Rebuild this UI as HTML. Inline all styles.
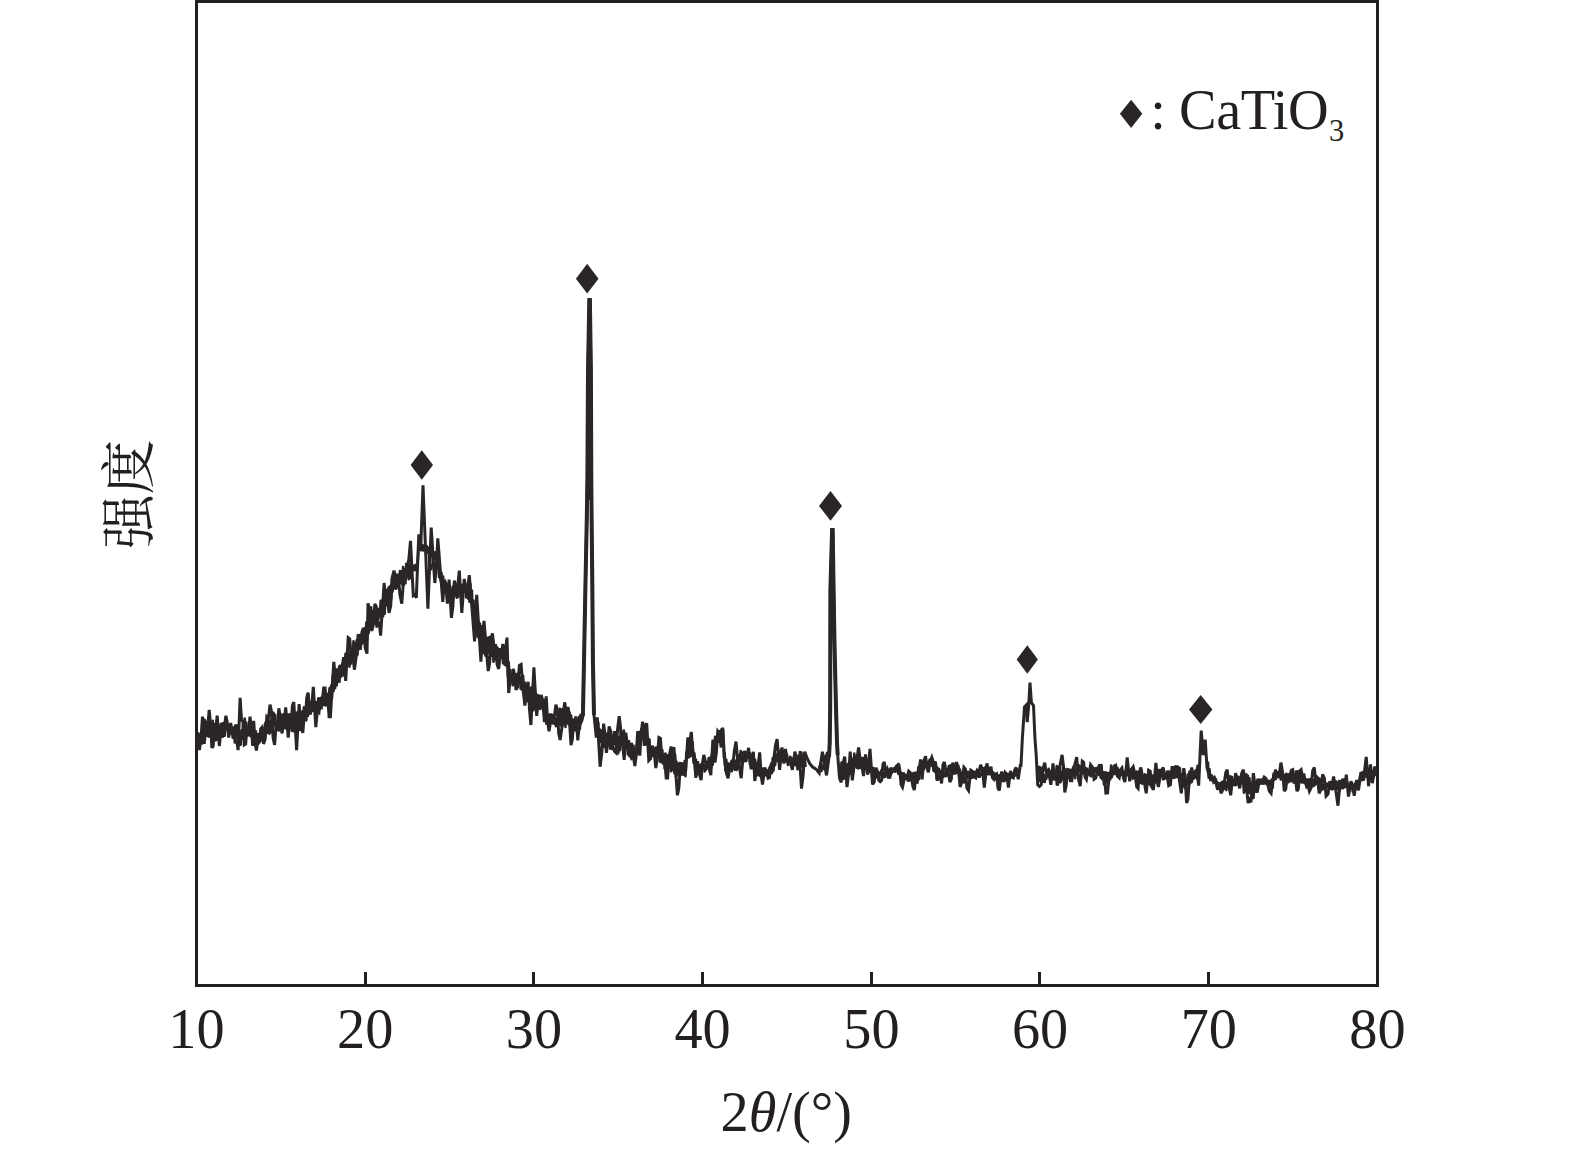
<!DOCTYPE html>
<html lang="zh">
<head>
<meta charset="utf-8">
<title>XRD</title>
<style>
html,body{margin:0;padding:0;background:#fff;}
body{width:1575px;height:1149px;overflow:hidden;}
svg{display:block;}
text{font-family:"Liberation Serif","Noto Serif CJK SC",serif;fill:#231f20;}
.num{font-size:56.3px;}
.cjk{font-family:"Noto Serif CJK SC","Liberation Serif",serif;font-size:54.5px;}
</style>
</head>
<body>
<svg width="1575" height="1149" viewBox="0 0 1575 1149">
<rect x="0" y="0" width="1575" height="1149" fill="#fff"/>
<!-- frame -->
<rect x="196.5" y="1.5" width="1181" height="984" fill="none" stroke="#231f20" stroke-width="3"/>
<rect x="364" y="972" width="3" height="12" fill="#231f20"/>
<rect x="532" y="972" width="3" height="12" fill="#231f20"/>
<rect x="701" y="972" width="3" height="12" fill="#231f20"/>
<rect x="870" y="972" width="3" height="12" fill="#231f20"/>
<rect x="1038" y="972" width="3" height="12" fill="#231f20"/>
<rect x="1207" y="972" width="3" height="12" fill="#231f20"/>

<!-- curve -->
<polyline fill="none" stroke="#2a2627" stroke-width="2.6" stroke-linejoin="round" points="197.5,745.1 198.3,733.4 199.1,744.8 199.9,734.7 200.7,743.3 201.5,731.3 202.3,743.5 203.1,728.8 203.9,739.2 204.7,719.8 205.5,732.6 206.3,721.9 207.1,735.7 207.9,722.2 208.7,736.8 209.5,730.1 210.3,734.2 211.1,724.3 211.9,729.8 212.7,720.9 213.5,736.8 214.3,724.1 215.1,740.5 215.9,731.7 216.7,740.0 217.5,729.3 218.3,736.2 219.1,727.1 219.9,735.0 220.7,724.0 221.5,731.8 222.3,723.5 223.1,736.5 223.9,727.1 224.7,735.8 225.5,726.1 226.3,729.6 227.1,725.3 227.9,729.0 228.7,725.7 229.5,729.5 230.3,726.9 231.1,734.0 231.9,727.3 232.7,737.6 233.5,730.0 234.3,737.7 235.1,725.6 235.9,736.1 236.7,725.3 237.5,739.6 238.3,725.5 239.1,744.6 239.9,734.0 240.7,744.7 241.5,730.2 242.3,738.8 243.1,725.7 243.9,731.9 244.7,718.5 245.5,734.2 246.3,722.6 247.1,735.3 247.9,727.3 248.7,735.2 249.5,727.6 250.3,736.0 251.1,727.1 251.9,735.1 252.7,724.9 253.5,741.1 254.3,732.1 255.1,742.7 255.9,731.4 256.7,741.1 257.5,734.4 258.3,743.8 259.1,734.0 259.9,740.3 260.7,734.1 261.5,740.3 262.3,733.0 263.1,737.4 263.9,728.0 264.7,734.6 265.5,722.5 266.3,733.1 267.1,721.8 267.9,732.8 268.7,721.5 269.5,733.6 270.3,721.0 271.1,732.3 271.9,715.2 272.7,727.0 273.5,712.9 274.3,725.3 275.1,714.9 275.9,728.0 276.7,722.5 277.5,729.6 278.3,722.3 279.1,730.5 279.9,718.9 280.7,724.2 281.5,714.7 282.3,722.9 283.1,714.5 283.9,727.8 284.7,720.0 285.5,728.2 286.3,720.2 287.1,728.7 287.9,714.8 288.7,726.4 289.5,714.3 290.3,728.1 291.1,715.8 291.9,730.6 292.7,718.7 293.5,731.2 294.3,713.8 295.1,723.7 295.9,713.0 296.7,726.2 297.5,712.3 298.3,728.4 299.1,717.7 299.9,730.0 300.7,715.5 301.5,726.0 302.3,711.5 303.1,723.2 303.9,707.2 304.7,718.2 305.5,708.2 306.3,719.9 307.1,701.2 307.9,716.0 308.7,699.0 309.5,710.9 310.3,702.2 311.1,712.0 311.9,701.8 312.7,710.6 313.5,703.5 314.3,711.3 315.1,702.5 315.9,711.5 316.7,702.4 317.5,708.2 318.3,698.2 319.1,709.5 319.9,698.5 320.7,708.0 321.5,697.5 322.3,705.2 323.1,699.2 323.9,704.9 324.7,698.6 325.5,705.5 326.3,695.2 327.1,705.2 327.9,693.7 328.7,703.0 329.5,688.3 330.3,702.5 331.1,685.6 331.9,698.4 332.7,675.9 333.5,691.3 334.3,675.8 335.1,688.3 335.9,669.4 336.7,680.2 337.5,669.8 338.3,676.8 339.1,666.6 339.9,676.1 340.7,667.6 341.5,676.5 342.3,663.9 343.1,675.2 343.9,659.8 344.7,671.0 345.5,653.8 346.3,666.1 347.1,653.7 347.9,663.6 348.7,654.1 349.5,666.6 350.3,651.9 351.1,663.4 351.9,649.7 352.7,659.4 353.5,641.3 354.3,656.1 355.1,643.2 355.9,653.3 356.7,640.3 357.5,654.8 358.3,639.2 359.1,649.3 359.9,635.0 360.7,643.6 361.5,638.2 362.3,643.4 363.1,637.7 363.9,641.1 364.7,628.4 365.5,642.2 366.3,622.5 367.1,639.0 367.9,622.3 368.7,633.2 369.5,615.4 370.3,628.7 371.1,607.2 371.9,622.7 372.7,611.2 373.5,619.6 374.3,614.4 375.1,623.7 375.9,616.6 376.7,626.8 377.5,612.2 378.3,619.8 379.1,608.8 379.9,616.2 380.7,600.9 381.5,618.1 382.3,600.9 383.1,616.3 383.9,600.9 384.7,613.6 385.5,594.4 386.3,605.5 387.1,589.8 387.9,601.9 388.7,587.4 389.5,601.2 390.3,586.1 391.1,599.2 391.9,579.2 392.7,591.4 393.5,574.0 394.3,588.3 395.1,576.8 395.9,588.8 396.7,576.8 397.5,587.5 398.3,577.1 399.1,583.9 399.9,571.0 400.7,582.6 401.5,571.5 402.3,584.6 403.1,567.1 403.9,584.6 404.7,569.4 405.5,583.1 406.3,563.7 407.1,577.0 407.9,565.9 408.7,579.1 409.5,563.9 410.3,578.3 411.1,569.6 411.9,571.4 412.7,565.5 413.5,570.2 414.3,565.8 415.1,570.1 415.9,564.7 416.7,569.3 417.5,564.5 418.3,550.6 419.1,545.1 419.9,550.0 420.7,545.8 421.5,550.2 422.3,545.0 423.1,550.4 423.9,545.9 424.7,550.2 425.5,546.0 426.3,549.7 427.1,546.3 427.9,552.6 428.7,548.3 429.5,565.4 430.3,565.2 431.1,569.2 431.9,564.9 432.7,564.4 433.5,553.1 434.3,558.2 435.1,552.4 435.9,558.0 436.7,560.0 437.5,567.9 438.3,564.3 439.1,577.1 439.9,572.6 440.7,580.9 441.5,573.0 442.3,593.0 443.1,576.6 443.9,593.7 444.7,583.3 445.5,591.0 446.3,589.6 447.1,598.7 447.9,592.3 448.7,598.0 449.5,587.6 450.3,596.3 451.1,589.9 451.9,597.7 452.7,586.7 453.5,593.6 454.3,582.9 455.1,595.2 455.9,585.1 456.7,597.6 457.5,585.0 458.3,596.9 459.1,585.6 459.9,589.7 460.7,584.9 461.5,593.9 462.3,585.8 463.1,589.7 463.9,583.2 464.7,589.8 465.5,584.2 466.3,597.3 467.1,586.2 467.9,598.5 468.7,584.2 469.5,601.8 470.3,583.9 471.1,602.4 471.9,590.6 472.7,615.2 473.5,600.6 474.3,619.9 475.1,611.9 475.9,626.9 476.7,617.7 477.5,636.8 478.3,622.9 479.1,639.0 479.9,623.5 480.7,639.4 481.5,626.3 482.3,645.2 483.1,636.0 483.9,653.3 484.7,638.4 485.5,655.6 486.3,640.3 487.1,650.4 487.9,637.9 488.7,652.7 489.5,637.0 490.3,654.2 491.1,642.9 491.9,655.8 492.7,647.1 493.5,661.8 494.3,645.5 495.1,659.5 495.9,645.7 496.7,656.2 497.5,647.9 498.3,656.7 499.1,649.4 499.9,656.9 500.7,649.3 501.5,657.8 502.3,650.7 503.1,663.3 503.9,650.9 504.7,664.6 505.5,651.0 506.3,665.7 507.1,650.3 507.9,676.8 508.7,662.3 509.5,678.8 510.3,670.1 511.1,682.3 511.9,674.9 512.7,685.3 513.5,677.6 514.3,683.0 515.1,674.8 515.9,680.3 516.7,674.3 517.5,680.1 518.3,673.0 519.1,682.1 519.9,677.0 520.7,688.9 521.5,678.4 522.3,689.6 523.1,675.7 523.9,693.7 524.7,682.5 525.5,698.0 526.3,686.2 527.1,701.1 527.9,689.9 528.7,698.8 529.5,689.9 530.3,700.3 531.1,687.5 531.9,701.6 532.7,692.1 533.5,710.2 534.3,695.2 535.1,707.4 535.9,693.5 536.7,705.3 537.5,695.1 538.3,705.7 539.1,695.9 539.9,709.0 540.7,698.4 541.5,708.0 542.3,700.0 543.1,710.5 543.9,700.1 544.7,714.0 545.5,706.4 546.3,723.8 547.1,713.6 547.9,723.4 548.7,715.4 549.5,720.5 550.3,714.4 551.1,721.8 551.9,714.8 552.7,723.3 553.5,717.8 554.3,723.8 555.1,718.6 555.9,726.2 556.7,718.8 557.5,724.3 558.3,717.2 559.1,723.6 559.9,708.9 560.7,725.5 561.5,709.5 562.3,726.0 563.1,708.8 563.9,723.3 564.7,710.9 565.5,726.9 566.3,708.4 567.1,722.9 567.9,708.7 568.7,724.4 569.5,712.3 570.3,726.5 571.1,715.6 571.9,729.0 572.7,719.6 573.5,730.3 574.3,722.6 575.1,730.3 575.9,722.5 576.7,728.2 577.5,720.5 578.3,727.2 579.1,717.1 579.9,728.7 580.7,713.7"/>
<polyline fill="none" stroke="#2a2627" stroke-width="2.6" stroke-linejoin="round" points="597.5,737.3 598.3,722.5 599.1,742.4 599.9,729.6 600.7,741.9 601.5,730.8 602.3,744.2 603.1,733.1 603.9,747.0 604.7,731.7 605.5,742.9 606.3,734.2 607.1,741.1 607.9,733.1 608.7,742.1 609.5,736.9 610.3,748.7 611.1,742.8 611.9,748.9 612.7,736.3 613.5,743.8 614.3,732.0 615.1,744.3 615.9,732.2 616.7,746.9 617.5,738.7 618.3,753.1 619.1,737.4 619.9,750.2 620.7,730.0 621.5,742.6 622.3,732.6 623.1,743.9 623.9,730.5 624.7,746.7 625.5,739.4 626.3,748.0 627.1,743.1 627.9,754.4 628.7,744.8 629.5,756.1 630.3,744.3 631.1,757.7 631.9,743.9 632.7,757.8 633.5,745.7 634.3,757.7 635.1,749.4 635.9,758.1 636.7,745.3 637.5,753.6 638.3,738.0 639.1,752.5 639.9,731.8 640.7,740.5 641.5,729.0 642.3,738.7 643.1,727.9 643.9,744.6 644.7,725.2 645.5,744.6 646.3,728.0 647.1,740.5 647.9,737.9 648.7,755.3 649.5,739.6 650.3,758.5 651.1,750.2 651.9,755.7 652.7,750.9 653.5,756.1 654.3,750.7 655.1,754.8 655.9,747.6 656.7,753.3 657.5,747.4 658.3,756.3 659.1,748.3 659.9,761.5 660.7,749.6 661.5,762.3 662.3,750.2 663.1,763.4 663.9,754.3 664.7,768.6 665.5,753.5 666.3,766.0 667.1,755.6 667.9,767.2 668.7,755.1 669.5,765.6 670.3,756.0 671.1,771.3 671.9,754.9 672.7,769.8 673.5,756.2 674.3,773.0 675.1,754.5 675.9,776.8 676.7,762.1 677.5,775.2 678.3,763.8 679.1,773.8 679.9,763.1 680.7,774.8 681.5,763.2 682.3,774.4 683.1,764.0 683.9,774.6 684.7,761.1 685.5,776.1 686.3,752.2 687.1,755.1 687.9,740.9 688.7,757.4 689.5,742.7 690.3,756.3 691.1,743.0 691.9,755.5 692.7,742.5 693.5,762.7 694.3,753.4 695.1,769.2 695.9,759.5 696.7,774.6 697.5,764.9 698.3,771.7 699.1,765.6 699.9,771.7 700.7,764.6 701.5,768.7 702.3,763.1 703.1,767.1 703.9,764.5 704.7,771.5 705.5,765.9 706.3,769.5 707.1,762.0 707.9,765.9 708.7,758.0 709.5,764.6 710.3,757.9 711.1,767.5 711.9,754.7 712.7,764.6 713.5,747.9 714.3,759.7 715.1,736.8 715.9,753.3 716.7,736.7 717.5,741.9 718.3,731.1 719.1,741.9 719.9,731.3 720.7,746.4 721.5,729.4 722.3,746.0 723.1,729.5 723.9,757.4 724.7,753.2 725.5,770.7 726.3,759.7 727.1,774.4 727.9,763.2 728.7,770.1 729.5,764.2 730.3,769.6 731.1,761.6 731.9,771.3 732.7,759.7 733.5,768.2 734.3,760.2 735.1,769.8 735.9,760.9 736.7,769.9 737.5,756.4 738.3,767.4 739.1,755.4 739.9,759.1 740.7,751.0 741.5,763.4 742.3,752.9 743.1,760.9 743.9,752.4 744.7,761.2 745.5,752.5 746.3,761.0 747.1,754.1 747.9,756.9 748.7,752.5 749.5,757.9 750.3,753.2 751.1,763.9 751.9,755.2 752.7,767.7 753.5,759.4 754.3,768.2 755.1,759.8 755.9,768.1 756.7,763.2 757.5,775.2 758.3,762.6 759.1,775.3 759.9,767.1 760.7,776.7 761.5,769.3 762.3,774.9 763.1,768.6 763.9,775.7 764.7,771.1 765.5,775.2 766.3,771.1 767.1,774.9 767.9,770.6 768.7,773.2 769.5,767.6 770.3,772.5 771.1,763.6 771.9,773.1 772.7,758.4 773.5,770.7 774.3,758.0 775.1,765.1 775.9,755.0 776.7,761.3 777.5,753.6 778.3,759.1 779.1,753.0 779.9,756.3 780.7,750.0 781.5,756.9 782.3,753.6 783.1,757.8 783.9,755.2 784.7,761.1 785.5,755.7 786.3,761.6 787.1,754.9 787.9,765.0 788.7,759.6 789.5,763.9 790.3,756.7 791.1,761.8 791.9,758.6 792.7,763.3 793.5,759.1 794.3,764.7 795.1,759.5 795.9,765.2 796.7,757.4 797.5,769.3 798.3,755.9 799.1,768.2 799.9,752.1 800.7,764.4 801.5,752.5 802.3,766.8 803.1,756.5 803.9,765.9 804.7,754.8 805.5,767.0"/>
<polyline fill="none" stroke="#2a2627" stroke-width="2.6" stroke-linejoin="round" points="819.1,765.6 819.9,769.9 820.7,765.7 821.5,770.9 822.3,765.7 823.1,768.9 823.9,762.0 824.7,766.3 825.5,755.7 826.3,765.7 827.1,751.8"/>
<polyline fill="none" stroke="#2a2627" stroke-width="2.6" stroke-linejoin="round" points="840.7,773.9 841.5,762.5 842.3,779.0 843.1,767.7 843.9,778.7 844.7,768.9 845.5,774.3 846.3,764.8 847.1,772.8 847.9,764.2 848.7,772.1 849.5,763.4 850.3,773.5 851.1,763.1 851.9,774.6 852.7,758.8 853.5,772.0 854.3,753.5 855.1,765.5 855.9,756.6 856.7,767.7 857.5,757.1 858.3,768.5 859.1,760.0 859.9,768.0 860.7,757.8 861.5,765.2 862.3,758.2 863.1,766.5 863.9,758.0 864.7,767.0 865.5,760.1 866.3,767.0 867.1,764.3 867.9,773.3 868.7,766.5 869.5,772.0 870.3,765.7 871.1,772.3 871.9,767.8 872.7,774.9 873.5,768.1 874.3,779.6 875.1,773.8 875.9,777.5 876.7,773.7 877.5,777.3 878.3,774.5 879.1,777.2 879.9,772.5 880.7,774.4 881.5,770.0 882.3,776.9 883.1,772.8 883.9,777.2 884.7,772.8 885.5,776.7 886.3,771.7 887.1,774.6 887.9,770.2 888.7,772.1 889.5,769.0 890.3,772.6 891.1,768.2 891.9,772.8 892.7,768.7 893.5,771.2 894.3,768.2 895.1,771.7 895.9,767.6 896.7,771.3 897.5,766.1 898.3,773.5 899.1,764.5 899.9,775.2 900.7,772.4 901.5,780.6 902.3,773.2 903.1,778.7 903.9,773.4 904.7,777.5 905.5,775.1 906.3,778.9 907.1,777.3 907.9,780.8 908.7,776.1 909.5,780.4 910.3,776.9 911.1,779.8 911.9,773.9 912.7,779.7 913.5,773.1 914.3,779.5 915.1,772.8 915.9,780.4 916.7,774.3 917.5,782.8 918.3,767.3 919.1,779.1 919.9,767.7 920.7,774.5 921.5,762.8 922.3,769.6 923.1,765.0 923.9,769.2 924.7,764.3 925.5,766.6 926.3,763.2 927.1,766.7 927.9,762.0 928.7,764.3 929.5,759.9 930.3,764.4 931.1,760.1 931.9,765.7 932.7,761.6 933.5,770.7 934.3,763.5 935.1,771.9 935.9,763.2 936.7,779.4 937.5,767.7 938.3,777.6 939.1,769.0 939.9,776.1 940.7,771.5 941.5,775.8 942.3,772.2 943.1,776.9 943.9,772.2 944.7,776.2 945.5,772.0 946.3,776.0 947.1,769.4 947.9,775.1 948.7,766.2 949.5,771.3 950.3,765.3 951.1,772.0 951.9,766.3 952.7,772.4 953.5,765.1 954.3,773.6 955.1,765.3 955.9,773.3 956.7,765.2 957.5,772.4 958.3,765.9 959.1,774.4 959.9,769.6 960.7,777.6 961.5,772.7 962.3,777.6 963.1,777.0 963.9,782.4 964.7,777.9 965.5,782.2 966.3,773.6 967.1,777.5 967.9,771.9 968.7,777.6 969.5,772.8 970.3,777.9 971.1,774.2 971.9,777.7 972.7,773.4 973.5,777.1 974.3,772.1 975.1,775.5 975.9,771.6 976.7,775.4 977.5,770.7 978.3,776.8 979.1,773.6 979.9,776.8 980.7,773.3 981.5,774.7 982.3,768.0 983.1,773.7 983.9,768.3 984.7,773.1 985.5,767.0 986.3,772.8 987.1,770.0 987.9,774.3 988.7,769.8 989.5,774.1 990.3,770.8 991.1,774.3 991.9,771.1 992.7,775.9 993.5,772.6 994.3,778.0 995.1,774.3 995.9,779.1 996.7,774.2 997.5,779.8 998.3,775.5 999.1,779.9 999.9,775.3 1000.7,778.5 1001.5,776.3 1002.3,780.9 1003.1,777.3 1003.9,781.2 1004.7,776.4 1005.5,780.4 1006.3,774.0 1007.1,777.8 1007.9,774.1 1008.7,777.9 1009.5,775.0 1010.3,776.3 1011.1,772.5 1011.9,777.8 1012.7,774.0 1013.5,776.3 1014.3,772.3 1015.1,775.5 1015.9,771.2 1016.7,774.3 1017.5,769.2 1018.3,778.5"/>
<polyline fill="none" stroke="#2a2627" stroke-width="2.6" stroke-linejoin="round" points="1039.1,765.8 1039.9,780.9 1040.7,767.8 1041.5,776.5 1042.3,770.1 1043.1,781.7 1043.9,774.5 1044.7,782.0 1045.5,775.1 1046.3,779.0 1047.1,770.3 1047.9,776.4 1048.7,768.8 1049.5,775.4 1050.3,771.3 1051.1,777.8 1051.9,771.6 1052.7,779.0 1053.5,774.7 1054.3,779.6 1055.1,771.1 1055.9,778.4 1056.7,766.0 1057.5,773.1 1058.3,767.0 1059.1,777.3 1059.9,770.4 1060.7,782.1 1061.5,772.6 1062.3,779.4 1063.1,766.9 1063.9,776.3 1064.7,769.0 1065.5,777.2 1066.3,772.6 1067.1,778.1 1067.9,773.7 1068.7,778.0 1069.5,774.2 1070.3,776.4 1071.1,770.4 1071.9,776.3 1072.7,769.1 1073.5,774.5 1074.3,767.8 1075.1,778.1 1075.9,767.9 1076.7,774.5 1077.5,765.3 1078.3,772.3 1079.1,765.6 1079.9,771.0 1080.7,766.9 1081.5,773.9 1082.3,768.4 1083.1,773.3 1083.9,770.0 1084.7,773.4 1085.5,768.0 1086.3,772.4 1087.1,768.8 1087.9,773.8 1088.7,770.3 1089.5,775.2 1090.3,771.7 1091.1,776.4 1091.9,771.2 1092.7,773.8 1093.5,769.8 1094.3,772.2 1095.1,768.2 1095.9,771.3 1096.7,768.2 1097.5,773.4 1098.3,770.6 1099.1,774.9 1099.9,768.8 1100.7,777.6 1101.5,766.0 1102.3,778.3 1103.1,772.3 1103.9,784.2 1104.7,772.3 1105.5,782.8 1106.3,772.6 1107.1,782.1 1107.9,773.4 1108.7,783.4 1109.5,772.9 1110.3,779.3 1111.1,765.5 1111.9,777.2 1112.7,768.5 1113.5,774.1 1114.3,769.6 1115.1,774.0 1115.9,768.7 1116.7,771.7 1117.5,768.1 1118.3,771.9 1119.1,770.4 1119.9,774.4 1120.7,770.3 1121.5,774.7 1122.3,770.4 1123.1,774.2 1123.9,771.8 1124.7,775.5 1125.5,771.6 1126.3,774.3 1127.1,770.3 1127.9,775.2 1128.7,770.6 1129.5,774.8 1130.3,769.8 1131.1,774.5 1131.9,770.2 1132.7,778.7 1133.5,774.2 1134.3,777.8 1135.1,774.1 1135.9,778.0 1136.7,771.6 1137.5,777.6 1138.3,772.9 1139.1,779.5 1139.9,775.6 1140.7,782.9 1141.5,778.3 1142.3,783.7 1143.1,776.0 1143.9,780.0 1144.7,774.3 1145.5,779.6 1146.3,775.3 1147.1,783.2 1147.9,777.8 1148.7,783.6 1149.5,778.3 1150.3,785.3 1151.1,776.2 1151.9,781.7 1152.7,775.6 1153.5,782.4 1154.3,776.2 1155.1,781.7 1155.9,775.5 1156.7,783.1 1157.5,774.6 1158.3,778.8 1159.1,770.1 1159.9,774.7 1160.7,770.1 1161.5,776.4 1162.3,772.8 1163.1,779.4 1163.9,775.1 1164.7,778.7 1165.5,775.3 1166.3,777.3 1167.1,771.5 1167.9,777.5 1168.7,771.5 1169.5,777.5 1170.3,772.0 1171.1,778.7 1171.9,770.9 1172.7,777.5 1173.5,770.0 1174.3,777.9 1175.1,770.6 1175.9,777.1 1176.7,770.1 1177.5,776.8 1178.3,766.9 1179.1,778.2 1179.9,768.3 1180.7,783.2 1181.5,774.3 1182.3,787.2 1183.1,779.1 1183.9,786.3 1184.7,781.2 1185.5,788.7 1186.3,779.0 1187.1,784.6 1187.9,774.6 1188.7,782.6 1189.5,771.7 1190.3,783.1 1191.1,770.5 1191.9,781.9 1192.7,772.3 1193.5,778.7 1194.3,774.0 1195.1,776.8 1195.9,770.3 1196.7,778.2 1197.5,765.9 1198.3,781.1"/>
<polyline fill="none" stroke="#2a2627" stroke-width="2.6" stroke-linejoin="round" points="1207.9,761.5 1208.7,777.7 1209.5,769.2 1210.3,780.1 1211.1,775.4 1211.9,779.9 1212.7,777.3 1213.5,781.0 1214.3,778.4 1215.1,782.9 1215.9,779.3 1216.7,786.0 1217.5,782.6 1218.3,787.3 1219.1,783.5 1219.9,787.4 1220.7,783.0 1221.5,787.3 1222.3,781.8 1223.1,788.0 1223.9,781.5 1224.7,788.7 1225.5,782.9 1226.3,790.2 1227.1,782.4 1227.9,786.7 1228.7,779.8 1229.5,784.8 1230.3,776.2 1231.1,782.5 1231.9,777.0 1232.7,783.6 1233.5,779.9 1234.3,785.1 1235.1,781.3 1235.9,785.1 1236.7,780.7 1237.5,782.8 1238.3,776.7 1239.1,781.3 1239.9,777.6 1240.7,781.4 1241.5,776.8 1242.3,783.4 1243.1,778.5 1243.9,792.7 1244.7,776.9 1245.5,791.4 1246.3,774.2 1247.1,789.9 1247.9,775.7 1248.7,792.4 1249.5,778.4 1250.3,793.5 1251.1,783.2 1251.9,798.5 1252.7,785.4 1253.5,797.9 1254.3,782.9 1255.1,791.7 1255.9,783.5 1256.7,785.3 1257.5,779.5 1258.3,783.7 1259.1,779.5 1259.9,783.8 1260.7,779.8 1261.5,783.5 1262.3,779.6 1263.1,783.8 1263.9,779.9 1264.7,783.4 1265.5,779.7 1266.3,783.5 1267.1,780.8 1267.9,784.9 1268.7,780.7 1269.5,785.1 1270.3,781.1 1271.1,786.1 1271.9,779.6 1272.7,787.7 1273.5,773.9 1274.3,779.9 1275.1,770.6 1275.9,778.9 1276.7,772.0 1277.5,776.4 1278.3,772.3 1279.1,776.7 1279.9,771.2 1280.7,779.4 1281.5,769.3 1282.3,779.3 1283.1,775.0 1283.9,782.2 1284.7,775.1 1285.5,781.2 1286.3,773.8 1287.1,782.1 1287.9,774.6 1288.7,782.1 1289.5,774.1 1290.3,781.2 1291.1,775.3 1291.9,781.2 1292.7,775.2 1293.5,781.2 1294.3,774.8 1295.1,779.0 1295.9,771.5 1296.7,779.1 1297.5,771.3 1298.3,779.9 1299.1,775.6 1299.9,781.2 1300.7,777.5 1301.5,782.5 1302.3,777.0 1303.1,782.4 1303.9,776.7 1304.7,783.0 1305.5,779.2 1306.3,784.4 1307.1,779.6 1307.9,784.6 1308.7,779.6 1309.5,784.7 1310.3,779.0 1311.1,785.5 1311.9,780.9 1312.7,786.3 1313.5,780.4 1314.3,785.7 1315.1,778.9 1315.9,784.0 1316.7,776.3 1317.5,782.2 1318.3,777.9 1319.1,783.3 1319.9,779.1 1320.7,789.2 1321.5,781.7 1322.3,789.5 1323.1,785.4 1323.9,788.7 1324.7,783.6 1325.5,786.8 1326.3,783.6 1327.1,786.6 1327.9,783.8 1328.7,787.4 1329.5,784.2 1330.3,788.5 1331.1,784.5 1331.9,789.5 1332.7,783.2 1333.5,788.6 1334.3,781.7 1335.1,788.5 1335.9,781.2 1336.7,788.8 1337.5,782.7 1338.3,789.2 1339.1,781.2 1339.9,790.4 1340.7,781.2 1341.5,787.7 1342.3,780.4 1343.1,788.3 1343.9,782.3 1344.7,787.1 1345.5,782.3 1346.3,786.4 1347.1,782.8 1347.9,786.4 1348.7,784.3 1349.5,788.8 1350.3,784.4 1351.1,787.1 1351.9,783.9 1352.7,791.3 1353.5,787.5 1354.3,788.5 1355.1,783.7 1355.9,786.5 1356.7,782.9 1357.5,788.1 1358.3,781.5 1359.1,784.6 1359.9,777.1 1360.7,780.2 1361.5,772.7 1362.3,780.2 1363.1,772.0 1363.9,779.7 1364.7,772.2 1365.5,776.3 1366.3,771.6 1367.1,777.0 1367.9,773.7 1368.7,777.5 1369.5,768.8 1370.3,772.7 1371.1,770.2 1371.9,774.9 1372.7,774.0 1373.5,777.8 1374.3,772.9 1375.1,775.0 1375.9,770.6"/>
<polyline fill="none" stroke="#2a2627" stroke-width="3" stroke-linejoin="miter" stroke-miterlimit="3" points="197.3,738.6 199.4,750.1 201.0,738.4 202.5,716.7 204.2,743.9 205.9,728.3 207.6,727.8 209.2,710.0 210.6,725.1 211.9,748.0 213.2,745.9 214.6,726.6 215.9,727.6 217.2,715.7 219.3,746.0 220.6,734.1 221.9,737.6 223.3,722.3 224.6,725.6 225.9,715.7 227.3,722.6 228.7,737.6 230.7,723.0 232.2,733.9 233.7,726.6 235.1,743.4 236.6,740.1 238.1,750.1 240.1,697.9 241.5,719.9 242.9,721.5 244.3,744.9 245.7,744.0 247.1,725.5 248.6,731.7 250.0,716.7 251.3,727.5 252.7,746.0 253.7,720.9 255.1,743.1 256.4,750.6 257.9,739.8 259.3,743.1 260.7,728.9 262.1,727.2 263.5,743.9 265.2,739.0 266.8,717.0 268.4,718.8 270.0,704.6 271.6,711.9 273.1,737.9 274.6,744.9 276.0,727.5 277.4,726.5 278.8,708.3 280.4,717.0 281.9,733.4 283.8,724.2 285.7,707.3 288.2,737.6 289.6,724.2 291.0,726.4 292.4,705.5 293.8,702.1 296.6,750.1 299.1,704.2 300.9,723.6 302.8,733.0 304.1,716.7 305.4,718.4 306.7,697.8 308.1,692.7 310.1,714.6 311.7,707.8 313.3,686.8 315.8,727.2 317.4,710.7 319.0,712.3 320.6,697.9 321.2,709.4 323.7,687.9 325.1,687.9 326.4,705.3 327.7,697.7 329.1,716.7 330.4,716.7 333.8,661.8 336.3,686.4 337.7,675.7 339.2,682.6 340.6,664.7 342.1,668.4 343.6,657.2 345.7,680.8 348.2,637.7 349.7,638.8 351.3,658.0 352.9,656.0 354.4,669.7 356.3,655.7 358.2,634.2 360.3,649.8 361.9,632.3 363.4,627.9 365.2,647.7 367.0,653.6 368.0,603.3 369.9,611.0 371.8,631.0 373.3,624.9 374.9,603.9 376.3,606.8 377.7,626.4 379.1,621.5 380.6,635.6 384.1,583.0 385.7,599.1 387.4,597.3 389.0,612.8 390.7,606.0 392.3,576.9 394.0,570.6 396.5,578.9 398.1,573.9 399.9,594.5 401.8,603.7 403.3,583.1 404.7,575.6 407.2,569.0 408.9,558.8 410.5,540.8 413.3,595.4 414.8,594.2 416.3,597.9 418.8,534.2 420.8,545.8 423.0,485.4 427.9,608.7 431.2,527.6 434.8,583.0 436.3,567.1 437.8,538.4 442.8,602.0 444.4,579.7 445.9,583.7 447.4,603.7 449.1,579.7 451.4,617.8 452.9,606.4 454.4,580.5 456.8,595.4 459.3,570.6 461.8,612.8 464.3,578.9 466.8,595.4 469.3,575.2 474.6,641.4 476.7,594.8 480.9,661.6 482.5,636.4 484.0,620.9 488.2,671.0 489.6,663.8 491.0,639.4 492.4,633.4 493.9,646.0 495.5,645.6 497.1,664.4 498.7,668.9 500.0,656.5 501.4,656.1 502.8,643.9 504.5,658.5 507.0,637.6 508.7,693.0 510.2,678.0 511.7,681.1 513.3,668.9 514.6,674.7 516.0,689.8 517.7,686.7 519.4,665.4 521.1,664.4 523.0,688.9 524.9,705.5 526.5,688.0 528.1,681.8 529.5,709.4 530.9,725.0 533.9,667.4 536.7,715.9 538.8,695.7 540.2,705.5 541.2,695.0 542.8,701.1 544.4,722.2 546.2,696.4 547.6,721.0 549.0,731.2 551.3,718.0 553.4,723.6 555.9,704.8 557.3,709.1 558.7,733.1 560.1,740.0 562.5,723.6 564.6,702.3 566.4,712.4 568.1,706.9 569.5,720.6 571.0,745.2 572.3,739.5 573.6,723.6 576.1,716.6 577.8,740.3 579.2,726.0 580.6,723.6 582.0,720.1 582.9,716.0 584.0,661.0 585.5,582.0 586.8,518.0 587.4,478.0 588.0,372.0 589.3,300.0 589.9,300.0 590.9,372.0 591.3,478.0 591.6,518.0 592.3,582.0 592.9,661.0 594.0,715.0 596.3,737.5 597.3,717.3 600.1,766.7 601.8,753.0 603.6,723.6 605.0,733.9 606.4,752.8 607.7,744.0 609.1,726.4 610.9,731.8 612.6,745.8 614.4,751.1 616.1,752.8 617.6,728.8 619.2,716.3 621.7,737.5 624.2,759.8 625.8,732.6 627.2,743.5 628.6,740.3 630.0,750.0 631.7,758.1 633.3,756.6 634.9,766.0 636.3,753.9 637.7,731.2 639.8,755.6 641.2,732.6 642.6,721.8 644.7,729.1 646.7,723.1 648.8,760.5 650.6,758.6 652.3,745.8 654.1,750.4 655.8,768.1 657.3,758.7 658.9,737.5 660.4,738.2 661.9,757.9 663.5,758.4 664.8,761.3 666.2,777.9 667.6,777.9 669.4,755.2 671.1,746.5 672.5,754.2 673.9,747.2 677.4,795.3 678.8,788.5 680.2,766.7 681.6,765.1 683.0,770.8 684.3,767.9 685.7,770.9 687.8,737.5 689.6,743.1 691.3,731.9 692.8,751.3 694.3,756.2 695.8,777.9 697.6,761.2 699.3,774.0 701.1,780.0 702.5,763.5 703.8,754.9 705.6,762.4 707.3,765.3 709.1,768.2 710.8,775.1 712.9,739.6 715.0,762.6 716.4,752.0 717.8,731.2 719.2,732.9 720.6,737.5 722.6,727.7 724.9,763.6 726.5,773.4 728.1,778.2 730.4,763.6 732.5,769.1 734.3,751.1 736.0,741.6 737.4,756.6 738.8,763.6 741.2,778.2 742.8,759.4 744.4,751.0 746.5,758.0 748.6,747.8 749.9,762.2 751.3,769.1 753.4,751.7 754.8,781.0 756.2,770.9 757.6,769.1 759.7,752.4 761.1,774.7 762.5,784.5 764.8,767.7 766.4,770.9 768.1,778.2 769.4,777.7 770.8,765.2 772.2,769.4 773.6,760.8 775.4,745.8 777.1,739.2 779.6,769.8 782.0,747.5 783.8,763.6 785.5,748.9 787.2,761.3 788.9,763.6 790.7,763.7 792.4,769.8 794.9,751.7 797.3,762.2 799.4,755.9 801.5,788.6 803.1,775.8 804.7,751.7 807.0,758.0 809.8,763.6 812.6,767.0 816.1,769.1 819.2,773.0 822.4,751.7 824.5,763.6 826.5,775.4 828.9,758.0 829.0,757.0 829.7,743.0 830.2,708.0 830.3,644.0 830.4,590.0 832.1,530.0 832.7,530.0 833.6,590.0 834.5,644.0 836.0,708.0 837.0,743.0 837.7,755.0 839.5,778.0 841.2,782.4 842.9,763.8 844.7,756.6 847.0,787.2 848.6,773.5 850.2,751.7 852.3,780.3 853.7,768.7 855.1,763.6 856.8,759.4 858.6,747.5 860.7,763.6 862.1,767.0 863.5,776.1 865.5,754.5 867.6,774.7 870.0,748.9 872.5,784.5 874.2,781.9 876.0,767.7 877.4,771.4 878.8,780.3 880.2,781.7 881.6,780.3 883.0,764.3 884.3,761.9 885.7,771.5 887.1,769.1 888.5,777.5 889.9,777.4 891.3,771.5 892.7,770.5 894.4,770.7 896.2,766.4 897.9,764.8 899.7,769.1 901.1,784.6 902.5,787.2 904.2,779.3 905.9,777.5 907.3,776.1 908.7,771.2 910.1,772.4 911.5,777.5 912.9,786.3 914.3,790.0 916.0,775.0 917.8,771.9 919.2,769.2 920.6,759.4 922.1,779.3 923.8,760.8 925.6,756.3 927.0,768.1 928.4,772.3 930.1,761.6 931.8,757.4 933.6,762.7 935.3,762.6 937.4,780.7 939.5,772.3 941.6,783.5 943.0,764.7 944.4,761.9 945.8,770.7 947.2,772.3 948.6,773.9 949.9,782.1 951.3,779.0 952.7,762.6 954.8,769.5 956.5,762.1 958.3,767.7 960.1,786.9 962.0,781.4 963.9,767.4 965.4,769.2 966.9,787.9 968.5,790.4 970.8,770.2 972.5,771.4 974.1,776.7 975.7,777.9 977.3,770.4 979.0,772.0 980.6,764.7 982.5,769.5 984.3,787.6 986.9,763.3 988.9,773.7 991.0,766.7 992.4,777.7 993.8,779.3 995.2,774.4 996.6,773.7 998.0,788.2 999.4,790.4 1001.5,771.6 1003.1,779.3 1005.0,772.3 1006.7,774.2 1008.4,787.6 1010.5,770.9 1011.9,777.3 1013.3,777.9 1014.7,770.1 1016.1,767.4 1018.2,779.3 1020.3,765.3 1021.0,765.3 1022.4,737.5 1024.5,706.9 1026.5,704.8 1027.2,722.2 1028.6,706.9 1030.0,682.5 1031.4,702.7 1033.5,705.5 1034.9,737.5 1036.3,756.6 1037.7,784.8 1039.4,786.5 1041.2,784.8 1042.9,769.2 1044.7,762.6 1046.0,771.5 1047.4,773.7 1049.2,775.3 1050.9,784.8 1053.0,763.3 1054.4,778.0 1055.8,772.4 1057.2,785.5 1058.6,781.7 1060.0,765.3 1062.1,754.9 1063.5,766.6 1064.8,792.5 1066.2,785.0 1067.6,769.5 1069.0,769.8 1070.4,780.7 1071.8,780.7 1073.2,767.9 1074.6,765.3 1076.7,757.0 1078.4,778.5 1080.2,786.2 1082.3,761.2 1083.6,762.3 1085.0,777.0 1086.4,779.3 1087.8,769.5 1089.2,773.0 1090.6,764.7 1092.4,767.0 1094.1,779.3 1095.8,778.0 1097.6,769.5 1099.3,765.4 1101.1,765.3 1102.7,780.0 1104.3,776.2 1105.9,793.2 1107.6,793.0 1109.2,775.0 1110.8,772.3 1112.4,771.6 1114.1,766.1 1115.7,765.3 1117.4,776.1 1119.2,777.9 1120.6,769.7 1121.9,768.1 1123.4,777.9 1124.9,782.1 1127.2,757.5 1129.7,781.4 1131.5,769.1 1133.2,766.8 1135.3,775.8 1136.7,786.8 1138.1,788.4 1139.5,771.5 1140.9,767.5 1142.3,775.8 1143.7,778.6 1146.2,793.3 1148.6,770.3 1150.2,771.2 1151.8,787.1 1153.4,789.8 1155.9,763.0 1158.3,787.0 1160.4,775.8 1161.8,770.2 1163.2,767.5 1164.6,774.8 1166.0,775.8 1167.4,777.7 1168.7,785.6 1170.4,784.7 1172.0,767.5 1173.6,767.5 1175.0,770.3 1176.1,765.4 1177.7,775.5 1179.2,778.6 1181.3,793.3 1183.8,768.2 1185.2,778.2 1186.6,803.0 1187.9,799.4 1189.2,781.4 1191.7,767.5 1193.8,778.6 1195.2,772.2 1196.6,769.6 1198.7,785.6 1200.1,753.6 1201.2,730.6 1203.3,755.0 1205.2,739.6 1207.0,767.5 1208.8,774.5 1210.5,777.2 1211.9,776.5 1213.3,781.1 1214.7,778.1 1216.1,781.4 1217.5,789.8 1219.2,784.2 1221.0,793.3 1222.7,790.0 1224.5,781.4 1225.8,772.4 1227.2,769.6 1229.0,786.6 1230.7,795.3 1232.3,780.3 1234.0,785.6 1235.6,773.1 1237.7,781.4 1239.8,788.4 1241.5,774.0 1243.3,769.6 1244.7,779.0 1246.0,781.4 1248.1,803.0 1249.5,799.8 1250.9,802.3 1253.4,773.1 1255.3,787.9 1257.2,792.6 1258.9,782.9 1260.7,781.4 1262.4,781.5 1264.2,777.2 1265.9,778.5 1267.6,784.2 1269.4,791.3 1271.1,793.3 1272.5,781.5 1273.9,775.8 1276.0,771.7 1278.1,775.8 1279.5,772.7 1280.9,762.6 1282.6,772.5 1284.3,791.2 1285.7,789.1 1287.1,778.6 1288.5,778.6 1289.9,777.5 1291.3,770.2 1292.7,769.6 1294.1,783.6 1295.5,777.9 1296.9,791.2 1298.3,789.0 1299.7,770.9 1301.1,769.6 1302.5,776.9 1303.8,773.5 1305.2,781.4 1306.6,786.6 1308.0,785.1 1309.4,791.2 1311.0,788.0 1312.7,770.6 1314.3,767.5 1315.9,783.1 1317.5,778.8 1319.2,793.3 1320.9,789.3 1322.6,774.5 1324.4,778.3 1326.1,796.0 1328.0,794.0 1329.8,781.3 1331.7,787.0 1333.6,776.5 1335.6,789.0 1338.0,805.7 1340.3,779.9 1341.8,787.0 1343.2,778.4 1344.7,787.0 1346.3,774.6 1348.5,796.6 1350.9,781.3 1352.6,784.7 1354.2,795.7 1356.6,779.9 1358.5,790.4 1360.9,772.2 1362.4,777.2 1363.8,777.5 1366.2,756.9 1368.6,786.1 1370.5,764.5 1372.4,783.2 1374.8,766.5 1376.1,773.6"/>
<polygon points="589.6,299 586.2,500 592.6,500" fill="#2a2627"/>
<polygon points="832.4,529 829.6,620 835.0,620" fill="#2a2627"/>
<polyline fill="none" stroke="#2a2627" stroke-width="4" stroke-linejoin="miter" points="582.9,716.0 584.0,661.0 585.5,582.0 586.8,518.0 587.4,478.0 588.0,372.0 589.3,300.0 589.9,300.0 590.9,372.0 591.3,478.0 591.6,518.0 592.3,582.0 592.9,661.0 594.0,715.0"/>
<polyline fill="none" stroke="#2a2627" stroke-width="4" stroke-linejoin="miter" points="829.0,757.0 829.7,743.0 830.2,708.0 830.3,644.0 830.4,590.0 832.1,530.0 832.7,530.0 833.6,590.0 834.5,644.0 836.0,708.0 837.0,743.0 837.7,755.0"/>
<!-- markers -->
<polygon points="421.8,450.2 433.0,465.0 421.8,479.8 410.6,465.0" fill="#2a2627"/>
<polygon points="587.2,263.8 598.5,278.7 587.2,293.6 575.9,278.7" fill="#2a2627"/>
<polygon points="830.5,491.0 842.0,505.9 830.5,520.8 819.0,505.9" fill="#2a2627"/>
<polygon points="1027.3,645.2 1037.9,659.5 1027.3,673.8 1016.7,659.5" fill="#2a2627"/>
<polygon points="1200.7,695.0 1212.4,709.5 1200.7,724.0 1189.0,709.5" fill="#2a2627"/>
<polygon points="1131.1,99.7 1142.3,113.8 1131.1,127.9 1119.9,113.8" fill="#2a2627"/>
<!-- legend -->
<text x="1150.3" y="129.3" class="num" letter-spacing="-0.45">: CaTiO<tspan font-size="30.5" dy="11.7" dx="0.8">3</tspan></text>
<!-- tick labels -->
<text x="196.5" y="1048.1" text-anchor="middle" class="num">10</text>
<text x="365.2" y="1048.1" text-anchor="middle" class="num">20</text>
<text x="533.9" y="1048.1" text-anchor="middle" class="num">30</text>
<text x="702.6" y="1048.1" text-anchor="middle" class="num">40</text>
<text x="871.4" y="1048.1" text-anchor="middle" class="num">50</text>
<text x="1040.1" y="1048.1" text-anchor="middle" class="num">60</text>
<text x="1208.8" y="1048.1" text-anchor="middle" class="num">70</text>
<text x="1377.5" y="1048.1" text-anchor="middle" class="num">80</text>

<!-- axis titles -->
<text x="786.3" y="1131" text-anchor="middle" class="num">2<tspan font-style="italic">θ</tspan>/(°)</text>
<text transform="translate(147.7,494.2) rotate(-90)" text-anchor="middle" class="cjk">强度</text>
</svg>
</body>
</html>
